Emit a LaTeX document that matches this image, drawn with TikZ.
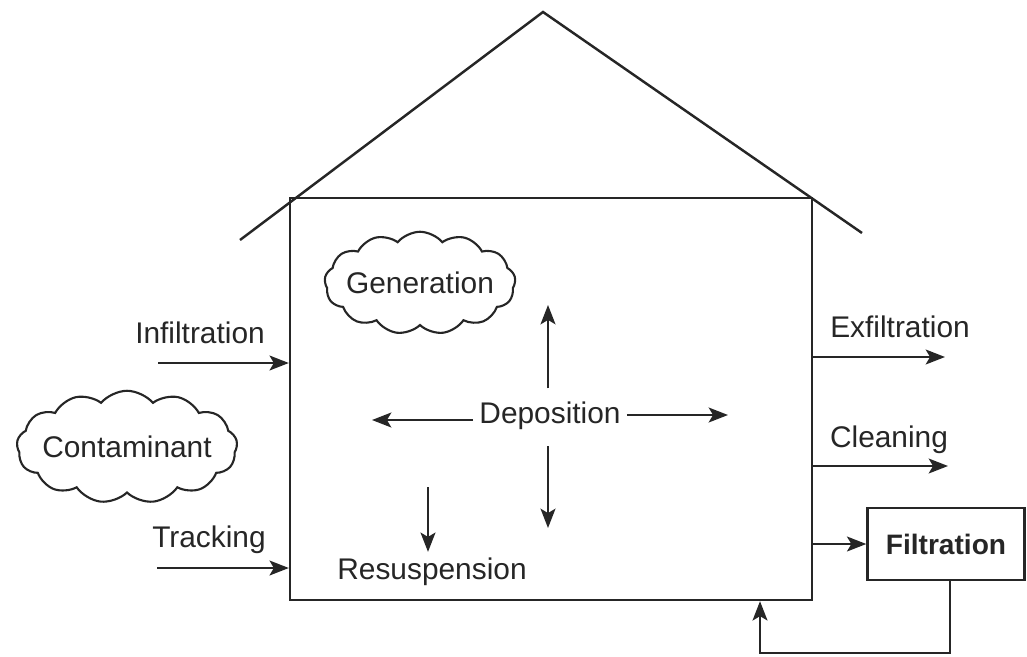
\documentclass[tikz,border=0pt]{standalone}
\usepackage{fontspec}
\setmainfont{Liberation Sans}
\usetikzlibrary{arrows.meta,positioning,shapes.symbols}
\tikzset{
  wall/.style={draw=black!85,line width=1.4pt},
  lbl/.style={font=\fontsize{17}{20}\selectfont,text=black!85},
  puff/.style={cloud,cloud puffs=13,cloud puff arc=100,cloud ignores aspect,inner xsep=-4pt,inner ysep=7pt,draw=black!85,line width=1.2pt,lbl},
  filtblk/.style={wall,rectangle,minimum width=3.14cm,minimum height=1.44cm,text=black!85,font=\bfseries\fontsize{16}{20}\selectfont},
  arr/.style={-{Stealth[length=11pt,width=8.5pt,inset=2.5pt]},line width=1.2pt,black!85}
}

\begin{document}
\begin{tikzpicture}[x=0.02cm,y=-0.02cm]
  \useasboundingbox (0,0) rectangle (1027,656);
  % house and roof
  \node[wall,rectangle,minimum width=10.44cm,minimum height=8.04cm] (house) at (551,399) {};
  \coordinate (roofL) at (240,240);
  \coordinate (apex) at (543,12);
  \coordinate (roofR) at (862,233);
  \draw[wall] (roofL) -- (apex) -- (roofR);

  % sources
  \node[puff,minimum width=3.3cm,minimum height=2.05cm] (gen) at (420,283) {Generation};
  \node[puff,minimum width=3.95cm,minimum height=2.25cm] (cont) at (127,447) {Contaminant};
  \node[lbl] (infl) at (200,333) {Infiltration};
  \node[lbl] (track) at (209,540) {Tracking};
  \coordinate (infS) at (158,363);
  \coordinate (trkS) at (157,568);
  \draw[arr] (infS) -- (infS -| house.west);
  \draw[arr] (trkS) -- (trkS -| house.west);

  % inside the house
  \node[lbl] (dep) at (550,416) {Deposition};
  \coordinate (depL) at (372,420);
  \coordinate (depR) at (728,415);
  \coordinate (depU) at (548,305);
  \coordinate (depD) at (548,528);
  \draw[arr] (dep.west |- depL) -- (depL);
  \draw[arr] (dep.east |- depR) -- (depR);
  \draw[arr] ([yshift=0.15cm]depU |- dep.north) -- (depU);
  \draw[arr] ([yshift=-0.2cm]depD |- dep.south) -- (depD);
  \node[lbl] (resus) at (432,572) {Resuspension};
  \coordinate (resT) at (428,487);
  \draw[arr] (resT) -- (resT |- resus.north);

  % removal
  \node[lbl] (exfl) at (900,327) {Exfiltration};
  \node[lbl] (clean) at (889,440) {Cleaning};
  \coordinate (exfE) at (945,357);
  \coordinate (clnE) at (948,466);
  \draw[arr] (exfE -| house.east) -- (exfE);
  \draw[arr] (clnE -| house.east) -- (clnE);
  \node[filtblk] (filt) at (946,544) {Filtration};
  \draw[arr] (filt.west -| house.east) -- (filt.west);
  \coordinate (fbk) at (760,653);
  \draw[arr] ([xshift=0.08cm]filt.south) |- (fbk) -- (fbk |- house.south);
\end{tikzpicture}
\end{document}
